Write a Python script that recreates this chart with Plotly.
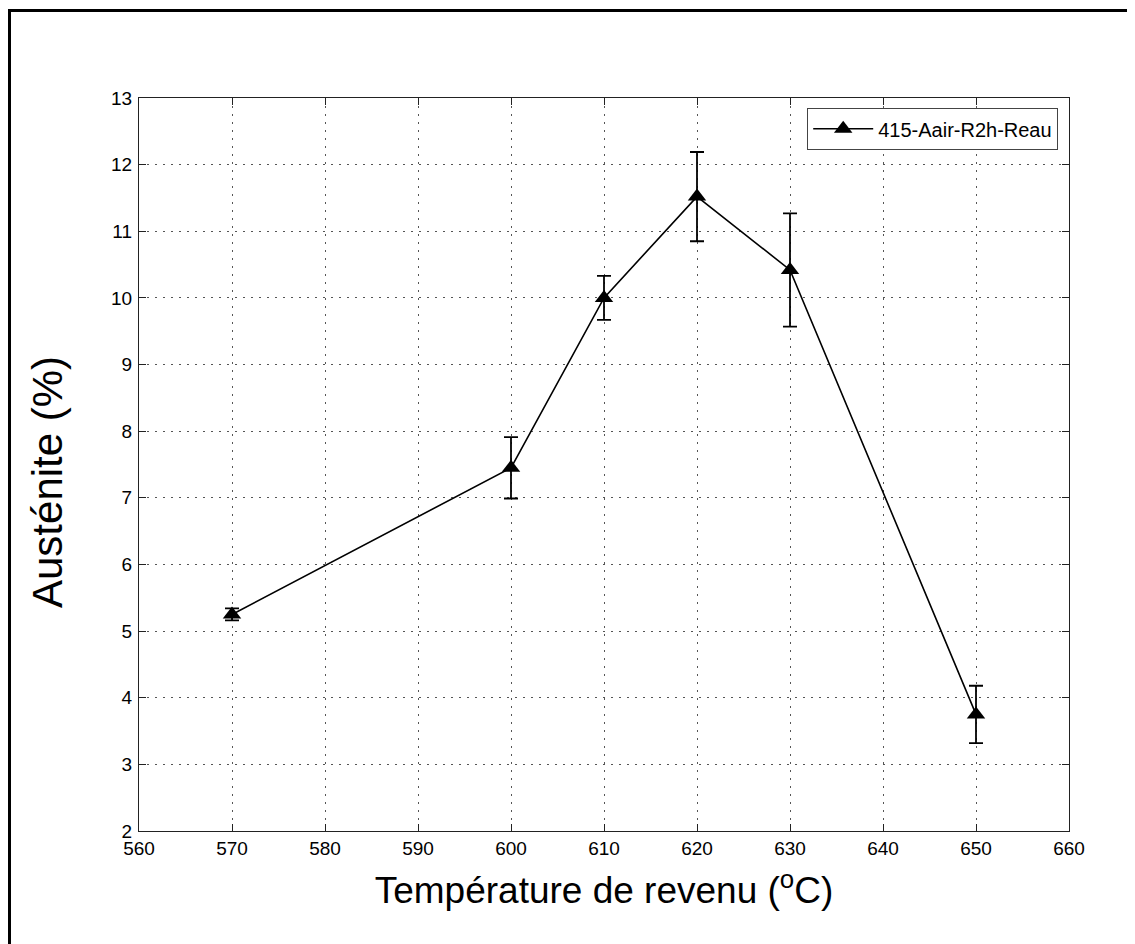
import plotly.graph_objects as go

temperature = [570, 600, 610, 620, 630, 650]
austenite = [5.25, 7.45, 10.0, 11.52, 10.42, 3.75]
error = [0.09, 0.46, 0.33, 0.67, 0.85, 0.43]
series_name = "415-Aair-R2h-Reau"
x_ticks = list(range(560, 661, 10))
y_ticks = list(range(2, 14, 1))
x_title = "Température de revenu (<sup>o</sup>C)"
y_title = "Austénite (%)"

# page is shown with an 8px body margin: work in figure pixels = page pixels - 8
OFF = 8
W, H = 1135 - OFF, 944 - OFF
ml = 139 - OFF
mr = W - (1069 - OFF)
mt = 98 - OFF
mb = H - (831 - OFF)
pw, ph = W - ml - mr, H - mt - mb


def px(x):
    return (x - OFF - ml) / pw


def py(y):
    return (H - mb - (y - OFF)) / ph


fig = go.Figure()
fig.add_trace(go.Scatter(
    x=temperature, y=austenite, name=series_name, mode="lines+markers",
    line=dict(color="black", width=1.6),
    marker=dict(symbol="triangle-up", size=16, color="black"),
    error_y=dict(type="data", array=error, visible=True, color="black",
                 thickness=1.8, width=7),
))

shapes = [
    dict(type="line", xref="paper", yref="paper", x0=px(9.5), x1=px(9.5), y0=py(9), y1=py(960),
         line=dict(color="black", width=3)),
    dict(type="line", xref="paper", yref="paper", x0=px(8), x1=px(1134), y0=py(10.5), y1=py(10.5),
         line=dict(color="black", width=3)),
    dict(type="line", xref="paper", yref="paper", x0=px(1133.5), x1=px(1133.5), y0=py(9), y1=py(960),
         line=dict(color="black", width=2)),
]

axis_common = dict(
    showline=True, mirror="ticks", linecolor="#222", linewidth=1.2,
    ticks="inside", ticklen=7, tickcolor="#222",
    showgrid=True, gridcolor="#555", griddash="2px,6px", gridwidth=1,
    zeroline=False, tickfont=dict(family="Liberation Sans, Arial", size=19, color="black"),
)

fig.update_layout(
    width=W, height=H,
    margin=dict(l=ml, r=mr, t=mt, b=mb),
    paper_bgcolor="white", plot_bgcolor="white",
    font=dict(family="Liberation Sans, Arial", color="black"),
    shapes=shapes,
    xaxis=dict(range=[560, 660], tickvals=x_ticks, ticklabelstandoff=0, title=dict(
        text=x_title, font=dict(size=37), standoff=19),
        **axis_common),
    yaxis=dict(range=[2, 13], tickvals=y_ticks, ticklabelstandoff=2, **axis_common),
    annotations=[dict(
        text=y_title, textangle=-90, xref="paper", yref="paper",
        x=px(47), y=py(482), xanchor="center", yanchor="middle",
        showarrow=False, font=dict(size=42, color="black"),
    )],
    showlegend=True,
    legend=dict(x=(1058 - OFF - ml) / pw, y=py(108), xanchor="right", yanchor="top",
                bgcolor="white", bordercolor="#444", borderwidth=1.2,
                font=dict(size=20, color="black"), itemwidth=60,
                tracegroupgap=0),
)

fig.write_html("out.html")
